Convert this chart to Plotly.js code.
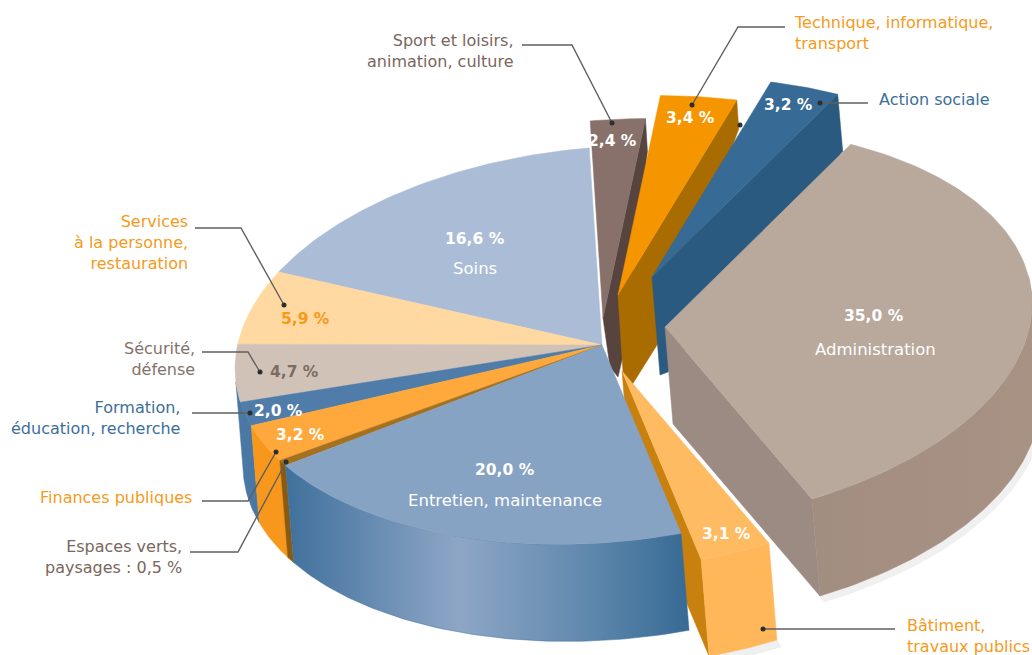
<!DOCTYPE html>
<html><head><meta charset="utf-8">
<script src="https://cdn.plot.ly/plotly-3.0.1.min.js"></script>
<style>html,body{margin:0;padding:0;background:#fff}#g{width:1032px;height:655px}</style>
</head><body><div id="g"></div>
<script>
// ---- data, clockwise from the top
const categories=["Sport et loisirs, animation, culture","Technique, informatique, transport","Action sociale","Administration","Bâtiment, travaux publics","Entretien, maintenance","Espaces verts, paysages","Finances publiques","Formation, éducation, recherche","Sécurité, défense","Services à la personne, restauration","Soins"];
const values=[2.4,3.4,3.2,35.0,3.1,20.0,0.5,3.2,2.0,4.7,5.9,16.6];
// ---- styles
const topColors=["#88716a","#f59500","#376a94","#b9a89c","#ffbb62","#86a3c3","#a5701f","#ffa83c","#4f7ca8","#d1c2b8","#ffd9a1","#abbdd6"];
const wallColors=["#57443f","#a96c00","#2b5a80","#9b8b82","#c8810f","#4a7aa5","#8a5a10","#f7981d","#4a78a4",null,null,null];
// ---- projection geometry: slice apex positions (exploded slices)
const apexX=[603,618,652,665,622,602,602,602,602,602,602,602];
const apexY=[318,295,277,327,371,345,345,345,345,345,345,345];
const RX=367,RY=198,SHEAR=0.064,START=-2,DEPTH=[8,97];
const rad=d=>d*Math.PI/180;
function pt(i,th){const dx=RX*Math.sin(rad(th));return [apexX[i]+dx,apexY[i]-RY*Math.cos(rad(th))-SHEAR*dx];}
const total=values.reduce((a,b)=>a+b,0);
const a0=[],a1=[];let cum=START;
values.forEach((v,i)=>{a0[i]=cum;cum+=v/total*360;a1[i]=cum;});
function arc(i,from,to){const n=Math.max(2,Math.ceil(Math.abs(to-from)));const o=[];for(let k=0;k<=n;k++)o.push(pt(i,from+(to-from)*k/n));return o;}
const traces=[];
function poly(pts,color,grad){
  const t={type:"scatter",mode:"lines",x:pts.map(p=>p[0]).concat(pts[0][0]),y:pts.map(p=>p[1]).concat(pts[0][1]),
    fill:"toself",line:{width:0.5,color:grad?grad[0][1]:color},hoverinfo:"skip",showlegend:false};
  if(grad)t.fillgradient={type:"horizontal",colorscale:grad};else t.fillcolor=color;
  traces.push(t);
}
function topFace(i){poly([[apexX[i],apexY[i]]].concat(arc(i,a0[i],a1[i])),topColors[i]);}
function frontWall(i,from,to,grad){const a=arc(i,from,to);const b=a.map(p=>[p[0]+DEPTH[0],p[1]+DEPTH[1]]).reverse();poly(a.concat(b),wallColors[i],grad);}
// side walls of the three rear slices: offsets from outer corner, then from apex
const rearOuter={0:[2,33],1:[2,29],2:[5,57]};
const rearApex={0:[[19,42],[15,59],[7,49]],1:[[39,50],[14,90],[5,78]],2:[[16,95],[8,98]]};
function rearWall(i){const e=pt(i,a1[i]);const o=rearOuter[i];
  const p=[e,[e[0]+o[0],e[1]+o[1]]];rearApex[i].forEach(q=>p.push([apexX[i]+q[0],apexY[i]+q[1]]));p.push([apexX[i],apexY[i]]);poly(p,wallColors[i]);}
function cutWall(i,th){const e=pt(i,th);const A=[apexX[i],apexY[i]];poly([A,e,[e[0]+DEPTH[0],e[1]+DEPTH[1]],[A[0]+DEPTH[0],A[1]+DEPTH[1]]],wallColors[i]);}

// shadows
function shadow(i,from,to,sx,sy,op){const a=arc(i,from,to).map(p=>[p[0]+DEPTH[0]+sx,p[1]+DEPTH[1]+sy]);
  const b=arc(i,from,to).map(p=>[p[0]+DEPTH[0],p[1]+DEPTH[1]]).reverse();poly(a.concat(b),"rgba(120,110,105,"+op+")");}
shadow(3,80,a1[3],4,6,0.1);shadow(4,a0[4],a1[4],4,7,0.1);

// main body, rear to front
frontWall(8,a0[8],a1[8]+6);
[11,10,9].forEach(topFace);
topFace(8);
frontWall(7,a0[7],a1[7]);topFace(7);
frontWall(6,a0[6],a1[6]);topFace(6);
rearWall(0);topFace(0);
rearWall(1);topFace(1);
rearWall(2);topFace(2);
cutWall(3,a1[3]);
frontWall(3,82,a1[3],[[0,"#a28d81"],[1,"#a89284"]]);topFace(3);
cutWall(4,a1[4]);
wallColors[4]="#ffb75a";frontWall(4,a0[4],a1[4]);topFace(4);
frontWall(5,a0[5],a1[5],[[0,"#3f709c"],[0.43,"#8ea6c6"],[0.75,"#5f88ad"],[1,"#376a94"]]);
topFace(5);

// leaders
const leaders=[
 [[522,45],[572,45],[612,123]],
 [[785,27],[738,27],[692,105]],
 [[868,103],[820,103]],
 [[195,228],[241,228],[284,305]],
 [[202,352],[248,352],[260,372]],
 [[192,413],[250,413]],
 [[202,501],[248,501],[276,452]],
 [[190,552],[238,552],[286,462]],
 [[895,629],[763,629]]
];
leaders.forEach(l=>{traces.push({type:"scatter",mode:"lines",x:l.map(p=>p[0]),y:l.map(p=>p[1]),line:{color:"#5f5f5f",width:1.4},hoverinfo:"skip",showlegend:false});});
traces.push({type:"scatter",mode:"markers",x:leaders.map(l=>l[l.length-1][0]).concat(740),y:leaders.map(l=>l[l.length-1][1]).concat(125),marker:{size:5,color:"#2e2e2e"},hoverinfo:"skip",showlegend:false});

// text
const fmt=v=>v.toFixed(1).replace(".",",")+" %";
const FONT="'DejaVu Sans', sans-serif";
const ann=[];
function txt(s,x,y,color,anchor,size,bold){ann.push({text:bold?"<b>"+s+"</b>":s,x:x,y:y,xref:"x",yref:"y",showarrow:false,xanchor:anchor,yanchor:"middle",align:anchor,font:{family:FONT,size:size,color:color},borderpad:0});}
const valueX=[612,690,788,874,726,505,null,300,278,294,305,475];
const valueY=[141,118,105,316,534,470,null,435,411,372,319,239];
const valueColor=["#fff","#fff","#fff","#fff","#fff","#fff",null,"#fff","#fff","#7e6c62","#f59a1b","#fff"];
values.forEach((v,i)=>{if(valueX[i]!==null)txt(fmt(v),valueX[i],valueY[i],valueColor[i],"center",15.5,true);});
txt("Administration",875,349,"#fff","center",16.5);
txt("Soins",475,268,"#fff","center",16.5);
txt("Entretien, maintenance",505,500,"#fff","center",16.5);
const outerLabels=[
 ["Sport et loisirs,<br>animation, culture",514,51,"#7a665c","right"],
 ["Technique, informatique,<br>transport",793,33,"#f59a1b","left"],
 ["Action sociale",878,99,"#3c6e9b","left"],
 ["Services<br>à la personne,<br>restauration",189,242,"#f59a1b","right"],
 ["Sécurité,<br>défense",196,359,"#84726a","right"],
 ["Formation,<br>éducation, recherche",181,418,"#3c6e9b","right"],
 ["Finances publiques",193,497,"#f59a1b","right"],
 ["Espaces verts,<br>paysages : 0,5 %",183,557,"#7a665c","right"],
 ["Bâtiment,<br>travaux publics",906,636,"#f59a1b","left"]
];
outerLabels.forEach(o=>txt(o[0],o[1],o[2],o[3],o[4],16));

Plotly.newPlot("g",traces,{width:1032,height:655,margin:{l:0,r:0,t:0,b:0},paper_bgcolor:"#fff",plot_bgcolor:"#fff",
 xaxis:{range:[0,1032],visible:false,fixedrange:true},yaxis:{range:[655,0],visible:false,fixedrange:true},annotations:ann,showlegend:false},{displayModeBar:false,staticPlot:true});
</script></body></html>
